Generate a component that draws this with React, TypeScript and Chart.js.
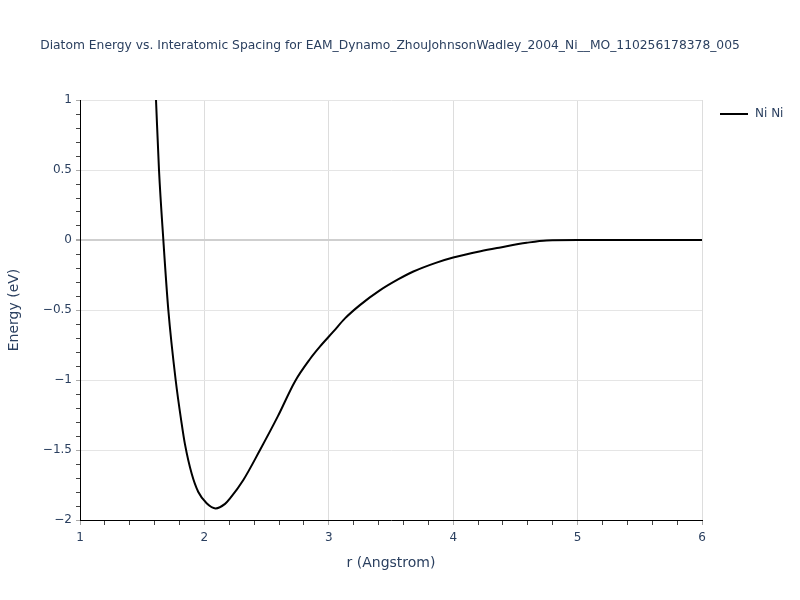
import React, { useEffect, useRef } from "react";
import { Chart, registerables } from "chart.js";

Chart.register(...registerables);

const chartTitle =
  "Diatom Energy vs. Interatomic Spacing for EAM_Dynamo_ZhouJohnsonWadley_2004_Ni__MO_110256178378_005";
const xAxisTitle = "r (Angstrom)";
const yAxisTitle = "Energy (eV)";
const seriesName = "Ni Ni";

const rValues = [
  1.611, 1.635, 1.67, 1.71, 1.769, 1.817, 1.844, 1.898, 1.951, 2.018, 2.09, 2.166,
  2.206, 2.313, 2.447, 2.59, 2.728, 2.849, 2.93, 3.036, 3.13, 3.25, 3.41, 3.56, 3.68,
  3.86, 4.0, 4.22, 4.38, 4.59, 4.75, 5.0, 5.5, 6.0,
];
const energyValues = [
  1.0, 0.5, 0.0, -0.5, -1.0, -1.31, -1.46, -1.67, -1.8, -1.88, -1.917, -1.885,
  -1.846, -1.714, -1.5, -1.26, -1.01, -0.85, -0.76, -0.655, -0.56, -0.465, -0.36,
  -0.28, -0.225, -0.163, -0.125, -0.08, -0.053, -0.02, -0.003, 0, 0, 0,
];

const xMin = 1;
const xMax = 6;
const yMin = -2;
const yMax = 1;

const TEXT = "#2a3f5f";
const FONT = "'DejaVu Sans', Verdana, sans-serif";

const isMult = (v: number, step: number) =>
  Math.abs(v / step - Math.round(v / step)) < 1e-6;

const fmt = (v: number) => {
  const s = String(Math.round(v * 1000) / 1000);
  return s.startsWith("-") ? "\u2212" + s.slice(1) : s;
};

const overlayPlugin = {
  id: "overlay",
  afterDraw(chart: any) {
    const ctx = chart.ctx as CanvasRenderingContext2D;
    const area = chart.chartArea;
    ctx.save();
    ctx.fillStyle = TEXT;
    ctx.textBaseline = "middle";
    // title
    ctx.font = `12.3px ${FONT}`;
    ctx.textAlign = "center";
    ctx.fillText(chartTitle, 390, 46);
    // x axis title
    ctx.font = `14px ${FONT}`;
    ctx.fillText(xAxisTitle, (area.left + area.right) / 2, 563);
    // y axis title
    ctx.save();
    ctx.translate(14, (area.top + area.bottom) / 2);
    ctx.rotate(-Math.PI / 2);
    ctx.fillText(yAxisTitle, 0, 0);
    ctx.restore();
    // legend
    ctx.strokeStyle = "#000";
    ctx.lineWidth = 2;
    ctx.beginPath();
    ctx.moveTo(720, 114);
    ctx.lineTo(748, 114);
    ctx.stroke();
    ctx.font = `12px ${FONT}`;
    ctx.textAlign = "left";
    ctx.fillText(seriesName, 755, 114);
    ctx.restore();
  },
};

export default function App() {
  const ref = useRef<HTMLCanvasElement | null>(null);
  useEffect(() => {
    if (!ref.current) return;
    const chart = new Chart(ref.current, {
      type: "line",
      data: {
        datasets: [
          {
            label: seriesName,
            data: rValues.map((r, i) => ({ x: r, y: energyValues[i] })),
            borderColor: "#000",
            borderWidth: 2,
            pointRadius: 0,
            fill: false,
            cubicInterpolationMode: "monotone",
          },
        ],
      },
      options: {
        animation: false,
        responsive: false,
        maintainAspectRatio: false,
        layout: { padding: { left: 0, top: 100, right: 98, bottom: 0 } },
        plugins: {
          legend: { display: false },
          title: { display: false },
          tooltip: { enabled: false },
        },
        scales: {
          x: {
            type: "linear",
            min: xMin,
            max: xMax,
            afterFit: (s: any) => {
              s.height = 80;
            },
            border: { display: true, color: "#000", width: 1 },
            grid: {
              color: (c: any) =>
                isMult(c.tick.value, 1) && c.tick.value !== xMin ? "#dddddd" : "rgba(0,0,0,0)",
              tickColor: (c: any) => (isMult(c.tick.value, 1) ? "#aaaaaa" : "#444444"),
              tickLength: 5,
              drawTicks: true,
            },
            ticks: {
              stepSize: 0.2,
              autoSkip: false,
              maxRotation: 0,
              maxTicksLimit: 100,
              padding: 6,
              color: TEXT,
              font: { family: FONT, size: 12 },
              callback: (v: any) => (isMult(Number(v), 1) ? fmt(Number(v)) : ""),
            },
          },
          y: {
            type: "linear",
            min: yMin,
            max: yMax,
            afterFit: (s: any) => {
              s.width = 80;
            },
            border: { display: true, color: "#000", width: 1 },
            grid: {
              color: (c: any) => {
                const v = c.tick.value;
                if (Math.abs(v) < 1e-6) return "#cfcfcf";
                if (v === yMin) return "rgba(0,0,0,0)";
                return isMult(v, 0.5) ? "#e5e5e5" : "rgba(0,0,0,0)";
              },
              lineWidth: (c: any) => (Math.abs(c.tick.value) < 1e-6 ? 2 : 1),
              tickColor: (c: any) => (isMult(c.tick.value, 0.5) ? "#aaaaaa" : "#444444"),
              tickLength: 4,
              drawTicks: true,
            },
            ticks: {
              stepSize: 0.1,
              autoSkip: false,
              maxTicksLimit: 100,
              padding: 4,
              color: TEXT,
              font: { family: FONT, size: 12 },
              callback: (v: any) => (isMult(Number(v), 0.5) ? fmt(Number(v)) : ""),
            },
          },
        },
      },
      plugins: [overlayPlugin],
    } as any);
    return () => chart.destroy();
  }, []);
  return (
    <div style={{ position: "fixed", left: 0, top: 0, width: 800, height: 600, background: "#fff" }}>
      <canvas ref={ref} width={800} height={600} style={{ width: 800, height: 600 }} />
    </div>
  );
}
